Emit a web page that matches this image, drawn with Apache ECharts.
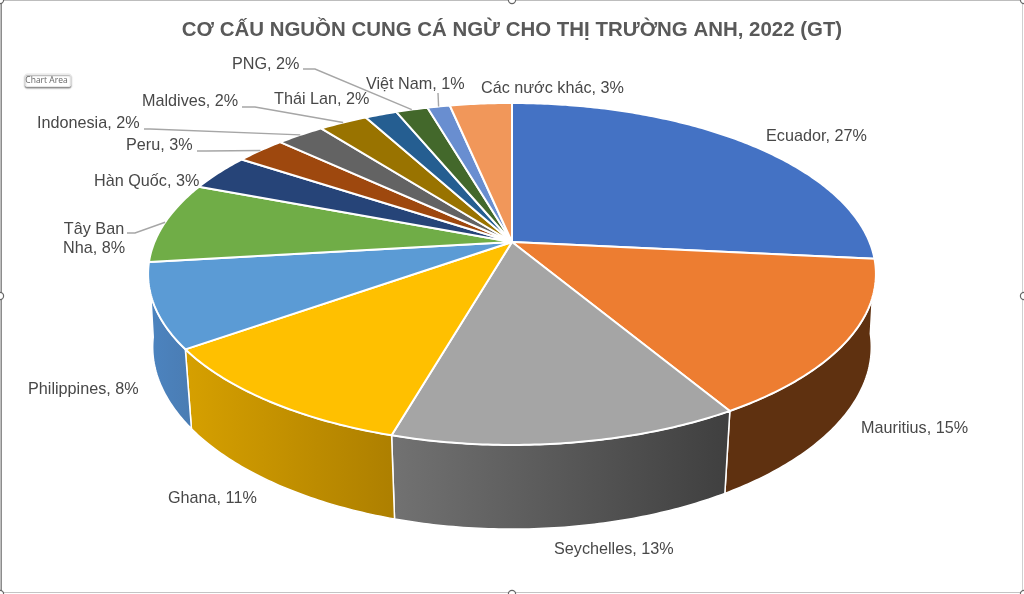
<!DOCTYPE html>
<html><head><meta charset="utf-8">
<style>html,body{margin:0;padding:0;background:#fff}#c{width:1024px;height:594px}</style>
<script src="https://cdn.jsdelivr.net/npm/echarts@6/dist/echarts.min.js"></script>
</head><body><div id="c"></div>
<script>
const titleText = 'CƠ CẤU NGUỒN CUNG CÁ NGỪ CHO THỊ TRƯỜNG ANH, 2022 (GT)';
const categories = ['Ecuador','Mauritius','Seychelles','Ghana','Philippines','Tây Ban\nNha','Hàn Quốc','Peru','Indonesia','Maldives','Thái Lan','PNG','Việt Nam','Các nước khác'];
const sliceValues = [26.6,14.86,13.0,10.7,7.95,7.7,3.5,2.65,2.55,2.6,1.7,1.7,1.2,3.3];
const labelPercents = [27,15,13,11,8,8,3,3,2,2,2,2,1,3];
const topColors = ['#4472c4','#ed7d31','#a5a5a5','#ffc000','#5b9bd5','#70ad47','#264478','#9e480e','#636363','#997300','#255e91','#43682b','#698ed0','#f1975a'];
const wallColors = [['#2c4a80','#2c4a80'],['#5f3110','#5f3110'],['#727272','#3f3f3f'],['#d6a000','#ad7f00'],['#4c84c0','#4a7cb3'],['#4a7430','#4a7430'],['#1a2e50','#1a2e50'],['#6a3009','#6a3009'],['#444','#444'],['#664d00','#664d00'],['#193f60','#193f60'],['#2c451c','#2c451c'],['#4a6390','#4a6390'],['#a8693e','#a8693e']];
// label anchors: [x, y, align]
const labelAnchors = [[766,137,'left'],[861,429,'left'],[554,550,'left'],[168,499,'left'],[28,390,'left'],[94,239,'center'],[94,182,'left'],[126,146,'left'],[37,124,'left'],[142,102,'left'],[274,100,'left'],[232,65,'left'],[366,85,'left'],[481,89,'left']];
// leader lines start points per category (null = no leader)
const leaderStarts = [null,null,null,null,null,[[127,233],[135,233]],null,[[197,151],[206,151]],[[144,129],[150,129]],[[242,107],[255,107]],null,[[303,69],[315,69]],[[438,93],[438,93]],null];

const CX=512, CY=242, SX=357.5, SY=165, K=0.187, WALL=74, WSY=1.05;
const total = sliceValues.reduce((a,b)=>a+b,0);
const cum=[0]; sliceValues.forEach((v,i)=>cum.push(cum[i]+v));
const angleOf = p => p/total*2*Math.PI;
function proj(t,bottom){
  const u=Math.sin(t), v=-Math.cos(t), d=1-K*v;
  const sx=bottom?0.99-0.015*v:1;
  return [CX+sx*SX*u/d, CY+(bottom?WSY:1)*SY*v/d+(bottom?WALL:0)];
}
function arc(a0,a1,bottom){
  const n=Math.max(2,Math.ceil(Math.abs(a1-a0)/0.012)), pts=[];
  for(let i=0;i<=n;i++) pts.push(proj(a0+(a1-a0)*i/n,bottom));
  return pts;
}
function renderWall(params){
  const i=params.dataIndex;
  const a0=angleOf(cum[i]), a1=angleOf(cum[i+1]);
  // only the slices that face the viewer show a wall
  if(a0<Math.PI*0.4 || a1>Math.PI*1.6) return {type:'group',children:[]};
  const pts=arc(a0,a1,false).concat(arc(a1,a0,true));
  return {type:'polygon',shape:{points:pts},style:{
    fill:{type:'linear',x:0,y:0,x2:1,y2:0,colorStops:[{offset:0,color:wallColors[i][0]},{offset:1,color:wallColors[i][1]}]},
    stroke:'#fff',lineWidth:1.5,lineJoin:'round'}};
}
function renderTop(params){
  const i=params.dataIndex;
  const pts=[[CX,CY]].concat(arc(angleOf(cum[i]),angleOf(cum[i+1]),false));
  return {type:'polygon',shape:{points:pts},style:{fill:topColors[i],stroke:'#fff',lineWidth:2,lineJoin:'round'}};
}
function renderLabel(params){
  const i=params.dataIndex, children=[];
  const [x,y,align]=labelAnchors[i];
  if(leaderStarts[i]){
    const end=proj(angleOf((cum[i]+cum[i+1])/2),false);
    children.push({type:'polyline',shape:{points:leaderStarts[i].concat([end])},style:{fill:'none',stroke:'#a6a6a6',lineWidth:1.4}});
  }
  children.push({type:'text',x:x,y:y,style:{text:categories[i]+', '+labelPercents[i]+'%',font:'16.2px "Liberation Sans", Arial, sans-serif',fill:'#484848',align:align,verticalAlign:'middle',lineHeight:19}});
  return {type:'group',children:children};
}
const handles=[[0,0],[512,0],[1024,0],[0,296],[1024,296],[0,594],[512,594],[1024,594]];
const frame=[
  {type:'line',shape:{x1:0,y1:0.5,x2:1024,y2:0.5},style:{stroke:'#bdbdbd',lineWidth:1}},
  {type:'line',shape:{x1:0,y1:592.5,x2:1024,y2:592.5},style:{stroke:'#c4c4c4',lineWidth:1}},
  {type:'line',shape:{x1:1.2,y1:0,x2:1.2,y2:594},style:{stroke:'#7f7f7f',lineWidth:1.4}},
  {type:'line',shape:{x1:1022.5,y1:0,x2:1022.5,y2:594},style:{stroke:'#cfcfcf',lineWidth:1}}
];
handles.forEach(h=>frame.push({type:'circle',shape:{cx:h[0],cy:h[1],r:3.6},style:{fill:'#fff',stroke:'#666',lineWidth:1.2}}));
frame.push({type:'rect',shape:{x:25,y:74,width:46,height:12.5,r:2},style:{fill:'#fff',stroke:'#e8e8e8',lineWidth:1,shadowColor:'rgba(0,0,0,0.4)',shadowBlur:1.5,shadowOffsetY:1.5}});
frame.push({type:'text',x:46.5,y:80.5,style:{text:'Chart Area',font:'8.5px "Open Sans", sans-serif',fill:'#666',align:'center',verticalAlign:'middle'}});

const chart=echarts.init(document.getElementById('c'),null,{renderer:'canvas'});
chart.setOption({
  animation:false,
  backgroundColor:'#fff',
  title:{text:titleText,left:'center',top:15,textStyle:{fontFamily:'"Liberation Sans", Arial, sans-serif',fontSize:20.45,fontWeight:'bold',color:'#595959'}},
  tooltip:{show:false},
  graphic:frame,
  series:[
    {type:'custom',coordinateSystem:'none',silent:true,data:sliceValues,renderItem:renderWall,z:2},
    {type:'custom',coordinateSystem:'none',silent:true,data:sliceValues,renderItem:renderTop,z:3},
    {type:'custom',coordinateSystem:'none',silent:true,data:sliceValues,renderItem:renderLabel,z:4}
  ]
});
</script></body></html>
